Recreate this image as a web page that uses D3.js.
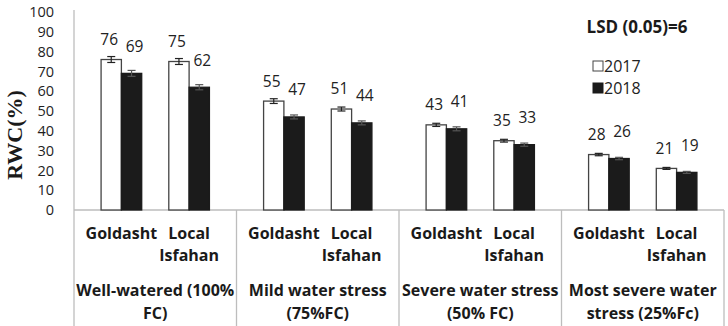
<!DOCTYPE html>
<html><head><meta charset="utf-8">
<script src="https://cdn.jsdelivr.net/npm/d3@7"></script>
<style>body{margin:0;background:#fff}svg{display:block}</style>
</head><body><svg id="c" width="728" height="326"></svg>
<script>
const groups = ["Well-watered (100%|FC)", "Mild water stress|(75%FC)", "Severe water stress|(50% FC)", "Most severe water|stress (25%Fc)"];
const cultivars = ["Goldasht", "Local|Isfahan"];
const series = ["2017", "2018"];
const values2017 = [76, 75, 55, 51, 43, 35, 28, 21];
const values2018 = [69, 62, 47, 44, 41, 33, 26, 19];
const err2017 = [1.5, 1.5, 1.2, 1.0, 0.8, 0.7, 0.6, 0.5];
const err2018 = [1.5, 1.3, 1.0, 1.0, 1.0, 0.8, 0.6, 0.5];
const yTicks = [0,10,20,30,40,50,60,70,80,90,100];
const lsdText = "LSD (0.05)=6";
const yTitle = "RWC(%)";

const svg = d3.select("#c");
const pLeft = 74, pRight = 724, pBase = 210, pTop = 12;
const y = d3.scaleLinear().domain([0,100]).range([pBase, pTop]);
const gx = d3.scaleBand().domain(groups).range([pLeft, pRight]).padding(0);
const cx = d3.scaleBand().domain(cultivars).range([0, gx.bandwidth()]).padding(0.4);
const sx = d3.scaleBand().domain(series).range([0, cx.bandwidth()]).padding(0);
const fills = {"2017":"#ffffff","2018":"#1b1b1b"};
const grey = "#bdbdbd";
const font = "'Open Sans', sans-serif";

// y tick labels
const ya = d3.axisLeft(y).tickValues(yTicks).tickSize(0).tickPadding(0);
const yg = svg.append("g").attr("transform",`translate(${pLeft-20},0)`).call(ya);
yg.select(".domain").remove();
yg.selectAll("text").attr("font-family",font).attr("font-size",14.5).attr("fill","#1e1e1e");

// axis lines
svg.append("line").attr("x1",pLeft).attr("x2",pLeft).attr("y1",y(100)-2).attr("y2",326).attr("stroke",grey).attr("stroke-width",1.3);
svg.append("line").attr("x1",pLeft).attr("x2",pRight).attr("y1",pBase).attr("y2",pBase).attr("stroke",grey).attr("stroke-width",1.3);
groups.forEach((g,i)=>{
  const xe = gx(g)+gx.bandwidth();
  svg.append("line").attr("x1",xe).attr("x2",xe).attr("y1",pBase).attr("y2",326).attr("stroke",grey).attr("stroke-width",1.3);
});

// bars
const rows = [];
groups.forEach((g,gi)=>cultivars.forEach((c,ci)=>{
  const k = gi*2+ci;
  rows.push({g,c,s:"2017",v:values2017[k],e:err2017[k]});
  rows.push({g,c,s:"2018",v:values2018[k],e:err2018[k]});
}));
const bx = d => gx(d.g)+cx(d.c)+sx(d.s);
svg.append("g").selectAll("rect").data(rows).join("rect")
  .attr("x",bx).attr("width",sx.bandwidth())
  .attr("y",d=>y(d.v)).attr("height",d=>pBase-y(d.v))
  .attr("fill",d=>fills[d.s]).attr("stroke",d=>d.s==="2017"?"#444":"#1b1b1b").attr("stroke-width",1.3);
// error bars
const eg = svg.append("g").attr("stroke-width",1.2);
rows.forEach(d=>{
  const m = bx(d)+sx.bandwidth()/2;
  const col = d.s==="2018"?"#555":"#222";
  eg.append("line").attr("x1",m).attr("x2",m).attr("y1",y(d.v+d.e)).attr("y2",y(d.v-d.e)).attr("stroke",col);
  [d.v+d.e,d.v-d.e].forEach(t=>eg.append("line").attr("x1",m-4).attr("x2",m+4).attr("y1",y(t)).attr("y2",y(t)).attr("stroke",col));
});
// value labels
svg.append("g").selectAll("text").data(rows).join("text")
  .attr("x",d=>bx(d)+sx.bandwidth()/2+(d.s==="2017"?-2:3))
  .attr("y",d=>y(d.v)-(d.s==="2017"?20:27))
  .attr("dy","0.35em").attr("text-anchor","middle")
  .attr("font-family",font).attr("font-size",15.5).attr("fill","#222")
  .text(d=>d.v);

// category labels
groups.forEach(g=>cultivars.forEach(c=>{
  const m = gx(g)+cx(c)+cx.bandwidth()/2;
  c.split("|").forEach((t,i)=>svg.append("text").attr("x",m).attr("y",233+i*22).attr("dy","0.35em")
    .attr("text-anchor","middle").attr("font-family",font).attr("font-weight","bold").attr("font-size",16).attr("fill","#1a1a1a").text(t));
}));
groups.forEach(g=>{
  const m = gx(g)+gx.bandwidth()/2;
  g.split("|").forEach((t,i)=>svg.append("text").attr("x",m).attr("y",290+i*23).attr("dy","0.35em")
    .attr("text-anchor","middle").attr("font-family",font).attr("font-weight","bold").attr("font-size",16).attr("fill","#1a1a1a").text(t));
});

// y title
svg.append("text").attr("transform","translate(22,135) rotate(-90)").attr("text-anchor","middle")
  .attr("font-family","'Liberation Serif', 'Times New Roman', serif").attr("font-weight","bold").attr("font-size",22).attr("fill","#1a1a1a").text(yTitle);

// LSD
svg.append("text").attr("x",637).attr("y",27).attr("dy","0.35em").attr("text-anchor","middle")
  .attr("font-family",font).attr("font-weight","bold").attr("font-size",17).attr("fill","#1a1a1a").text(lsdText);

// legend
series.forEach((s,i)=>{
  const ly = 66+i*22;
  svg.append("rect").attr("x",593).attr("y",ly-5).attr("width",10).attr("height",10)
    .attr("fill",fills[s]).attr("stroke",s==="2017"?"#444":"#1b1b1b").attr("stroke-width",1);
  svg.append("text").attr("x",604).attr("y",ly).attr("dy","0.35em").attr("font-family",font).attr("font-size",16).attr("fill","#222").text(s);
});
</script></body></html>
